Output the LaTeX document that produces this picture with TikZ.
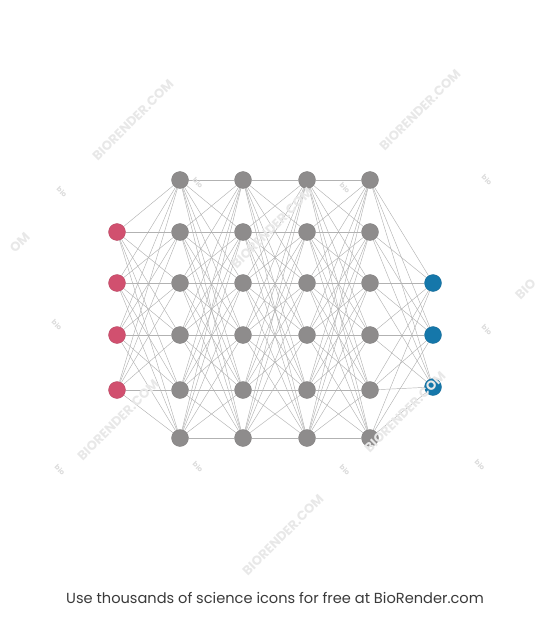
\documentclass[tikz,border=0pt]{standalone}
\usepackage{fontspec}
\setmainfont{Poppins}
\usetikzlibrary{backgrounds}
\definecolor{inpink}{HTML}{D1506F}
\definecolor{hidgray}{HTML}{8E8C8C}
\definecolor{outblue}{HTML}{1577AA}
\definecolor{captext}{HTML}{3A3A3A}
\tikzset{
  neuron/.style={circle,draw=#1!85!black,fill=#1,line width=0.3pt,inner sep=0pt,minimum size=17pt},
  synapse/.style={black!30,line width=0.45pt},
  watermark/.style={rotate=45,text=black!9,font=\bfseries\fontsize{13}{13}\selectfont},
  biomark/.style={rotate=-45,text=black!14,font=\bfseries\fontsize{7}{7}\selectfont}
}

\begin{document}
\begin{tikzpicture}[x=1pt,y=-1pt]
    \useasboundingbox (0,0) rectangle (550,620);

    % input layer
    \foreach \i/\y in {1/232,2/283,3/335,4/390}{
      \node[neuron=inpink] (in-\i) at (117,\y) {};
    }
    % four hidden layers of six
    \foreach \l/\x in {1/180,2/243,3/307,4/370}{
      \foreach \i/\y in {1/180,2/232,3/283,4/335,5/390,6/438}{
        \node[neuron=hidgray] (h\l-\i) at (\x,\y) {};
      }
    }
    % output layer
    \foreach \i/\y in {1/283,2/335,3/387}{
      \node[neuron=outblue] (out-\i) at (433,\y) {};
    }

    \begin{pgfonlayer}{background}
      \foreach \i in {1,...,4}{
        \foreach \j in {1,...,6}{
          \draw[synapse] (in-\i) -- (h1-\j);
        }
      }
      \foreach \l [evaluate=\l as \m using int(\l+1)] in {1,2,3}{
        \foreach \i in {1,...,6}{
          \foreach \j in {1,...,6}{
            \draw[synapse] (h\l-\i) -- (h\m-\j);
          }
        }
      }
      \foreach \i in {1,...,6}{
        \foreach \j in {1,2,3}{
          \draw[synapse] (h4-\i) -- (out-\j);
        }
      }
    \end{pgfonlayer}

    % faint watermarks
    \foreach \x/\y in {133/120,420/110,272/228,118/420,405/412,283/535}{
      \node[watermark] (wm-\x) at (\x,\y) {BIORENDER.COM};
    }
    \node[watermark,anchor=east] (wm-left) at (30,232) {OM};
    \node[watermark,anchor=west] (wm-right) at (515,300) {BIO};
    \foreach \x/\y in {62/192,198/183,345/188,487/180,57/325,487/330,60/470,198/467,345/470,480/465}{
      \node[biomark] (bio-\x-\y) at (\x,\y) {bio};
    }

    \node[text=captext,font=\fontsize{14.6}{17}\selectfont] (caption) at (275,598)
      {Use thousands of science icons for free at BioRender.com};
\end{tikzpicture}
\end{document}
